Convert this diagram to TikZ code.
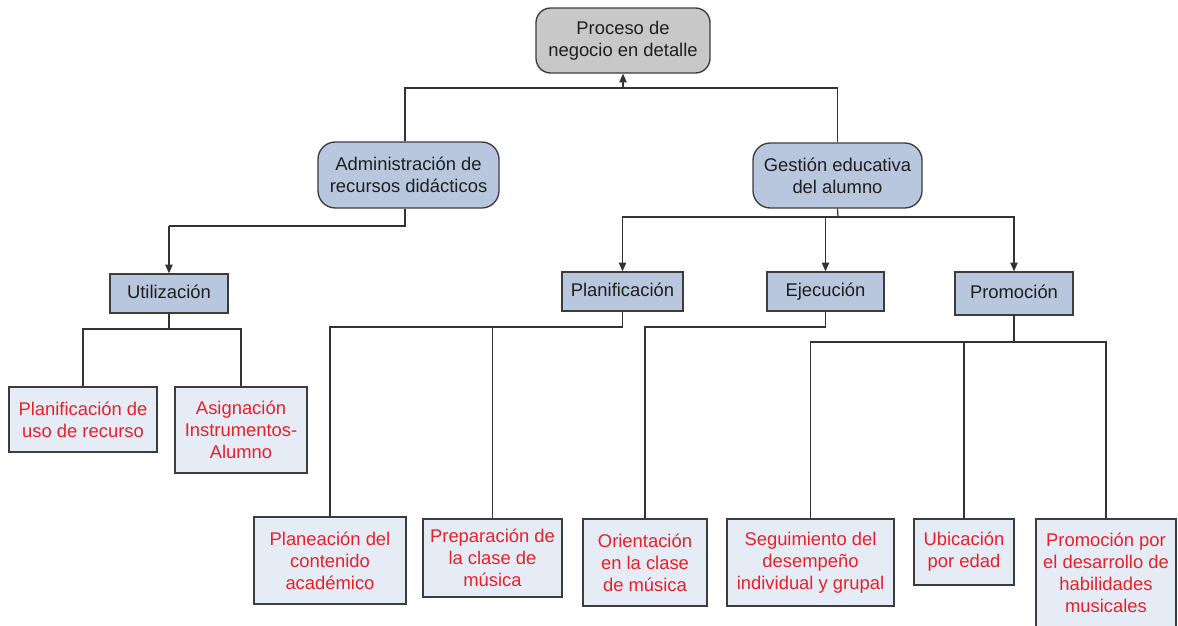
\documentclass[tikz,border=0pt]{standalone}
\usepackage{fontspec}
\setmainfont{Liberation Sans}
\usetikzlibrary{arrows.meta}
\definecolor{boxline}{HTML}{3C3C3C}
\definecolor{rootfill}{HTML}{C8C8C8}
\definecolor{midfill}{HTML}{B8C7DE}
\definecolor{leaffill}{HTML}{E6ECF5}
\definecolor{leaftext}{HTML}{E8202A}
\definecolor{wire}{HTML}{333333}
\tikzset{
  base/.style={draw=boxline, line width=1pt, inner sep=0pt, align=center,
    font=\fontsize{13.8}{16.5}\selectfont, text=black!88},
  rootbox/.style={base, fill=rootfill, rounded corners=11pt},
  groupbox/.style={base, fill=midfill, rounded corners=13pt},
  areabox/.style={base, fill=midfill, text height=10pt, text depth=1.8pt},
  leafbox/.style={base, fill=leaffill, text=leaftext},
  wirepath/.style={draw=wire, line width=0.9pt},
  arrowpath/.style={wirepath, -{Triangle[length=6.5pt,width=5.5pt]}},
  sz/.style 2 args={minimum width=#1*0.75pt, minimum height=#2*0.75pt}
}
\begin{document}
\begin{tikzpicture}[x=0.75pt, y=-0.75pt]
\useasboundingbox[fill=white] (0,0) rectangle (1178,625);

% top level
\node[rootbox, sz={174}{65}] (proc) at (623,40.5) {Proceso de\\negocio en detalle};

% process groups
\node[groupbox, sz={181}{66}] (adm) at (408.5,175) {Administración de\\recursos didácticos};
\node[groupbox, sz={169}{65}] (gest) at (837.5,175.5) {Gestión educativa\\del alumno};

% areas
\node[areabox, sz={118}{39}] (util) at (169,293.5) {Utilización};
\node[areabox, sz={121}{39}] (plan) at (622.5,291.5) {Planificación};
\node[areabox, sz={117}{39}] (ejec) at (825.5,291.5) {Ejecución};
\node[areabox, sz={118}{43}] (prom) at (1014,293.5) {Promoción};

% activities
\node[leafbox, sz={148}{65}] (usorec) at (83,419.5) {Planificación de\\uso de recurso};
\node[leafbox, sz={132}{86}] (asig) at (241,430) {Asignación\\Instrumentos-\\Alumno};
\node[leafbox, sz={152}{87}] (planea) at (330,560.5) {Planeación del\\contenido\\académico};
\node[leafbox, sz={139}{78}] (prepa) at (492.5,558) {Preparación de\\la clase de\\música};
\node[leafbox, sz={124}{87}] (orien) at (645,562.5) {Orientación\\en la clase\\de música};
\node[leafbox, sz={167}{87}] (segui) at (810.5,562.5) {Seguimiento del\\desempeño\\individual y grupal};
\node[leafbox, sz={100}{66}] (ubic) at (964,552) {Ubicación\\por edad};
\node[leafbox, sz={140}{108}] (promhab) at (1106,573) {Promoción por\\el desarrollo de\\habilidades\\musicales};

% junction points and stems
\coordinate (jtop) at (623,88);
\coordinate (admtop) at ([xshift=-2.6pt]adm.north);
\coordinate (admbot) at ([xshift=-2.6pt]adm.south);
\coordinate (jadm) at (169,226);
\coordinate (jgest) at (838,217);
\coordinate (jutil) at (169,329);
\coordinate (jplan) at (622.5,327);
\coordinate (jejec) at (825.5,327);
\coordinate (jprom) at (1014,342);

% connectors
\draw[arrowpath] (jtop) -- (proc.south);
\draw[wirepath] (admtop) |- (jtop) -| (gest.north);

\draw[wirepath] (admbot) |- (jadm);
\draw[arrowpath] (jadm) -- (util.north);

\draw[wirepath] (gest.south) -- (jgest);
\draw[arrowpath] (jgest) -| (plan.north);
\draw[arrowpath] (jgest) -| (ejec.north);
\draw[arrowpath] (jgest) -| (prom.north);

\draw[wirepath] (util.south) -- (jutil);
\draw[wirepath] (jutil) -| (usorec.north);
\draw[wirepath] (jutil) -| (asig.north);

\draw[wirepath] (plan.south) -- (jplan);
\draw[wirepath] (jplan) -| (planea.north);
\draw[wirepath] (jplan) -| (prepa.north);

\draw[wirepath] (ejec.south) |- (jejec) -| (orien.north);

\draw[wirepath] (prom.south) -- (jprom);
\draw[wirepath] (jprom) -| (segui.north);
\draw[wirepath] (jprom) -| (ubic.north);
\draw[wirepath] (jprom) -| (promhab.north);
\end{tikzpicture}
\end{document}
